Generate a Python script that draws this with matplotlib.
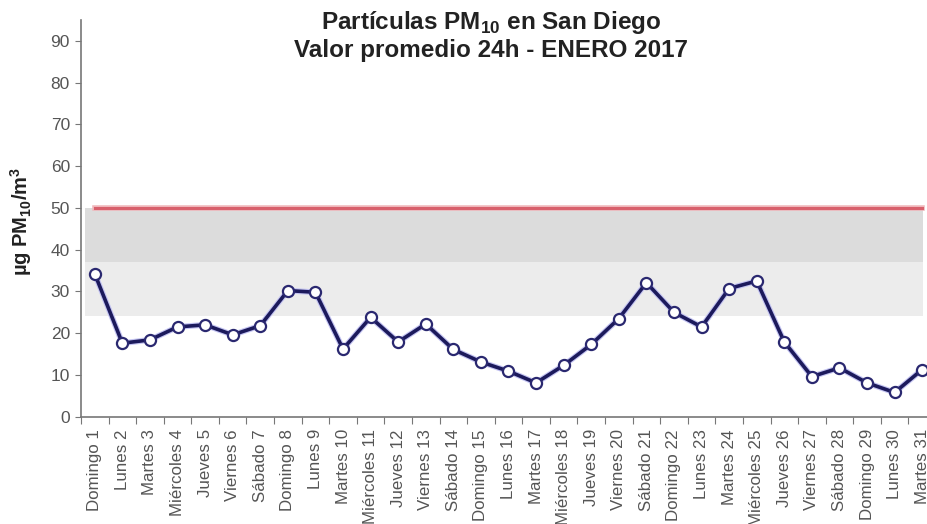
import matplotlib
matplotlib.use("Agg")
import matplotlib.pyplot as plt
import matplotlib.patheffects as pe

plt.rcParams['font.family'] = ['Liberation Sans', 'DejaVu Sans']
plt.rcParams['mathtext.fontset'] = 'custom'
plt.rcParams['mathtext.rm'] = 'Liberation Sans'
plt.rcParams['mathtext.bf'] = 'Liberation Sans:bold'

days = ["Domingo 1", "Lunes 2", "Martes 3", "Miércoles 4", "Jueves 5", "Viernes 6", "Sábado 7",
        "Domingo 8", "Lunes 9", "Martes 10", "Miércoles 11", "Jueves 12", "Viernes 13", "Sábado 14",
        "Domingo 15", "Lunes 16", "Martes 17", "Miércoles 18", "Jueves 19", "Viernes 20", "Sábado 21",
        "Domingo 22", "Lunes 23", "Martes 24", "Miércoles 25", "Jueves 26", "Viernes 27", "Sábado 28",
        "Domingo 29", "Lunes 30", "Martes 31"]
pm10 = [34.2, 17.6, 18.4, 21.5, 22.0, 19.6, 21.8, 30.2, 29.8, 16.2, 23.8, 17.9, 22.2, 16.1,
        13.1, 10.9, 8.1, 12.3, 17.3, 23.5, 32.1, 25.0, 21.5, 30.7, 32.5, 17.9, 9.6, 11.7,
        8.1, 5.8, 11.3]
limit_value = 50
band_high = (37, 50)
band_low = (24, 37)
yticks = list(range(0, 100, 10))

fig = plt.figure(figsize=(9.28, 5.24), dpi=100)
ax = fig.add_axes([81/928, (524-416.7)/524, (936-81)/928, (416.7-20)/524])

n = len(pm10)
x = list(range(n))
ax.set_xlim(-0.5, n - 0.5)
ax.set_ylim(0, 95)

ax.fill_between([-0.35, n - 1 + 0.02], band_high[0], band_high[1], color='#dcdcdc', lw=0, zorder=1)
ax.fill_between([-0.35, n - 1 + 0.02], band_low[0], band_low[1], color='#ececec', lw=0, zorder=1)
ax.plot([0, n - 1], [limit_value, limit_value], color='#d8606c', lw=2.2, zorder=2,
        path_effects=[pe.Stroke(linewidth=4, foreground='#f0b8bc'), pe.Normal()])

ax.plot(x, pm10, color='#1c1a5c', lw=2.6, zorder=3,
        path_effects=[pe.Stroke(linewidth=4.2, foreground='#c4c4f2'), pe.Normal()])
ax.plot(x, pm10, ls='none', marker='o', ms=8, mfc='white', mec='#2a2870', mew=1.6, zorder=4)

for s in ['top', 'right']:
    ax.spines[s].set_visible(False)
for s in ['left', 'bottom']:
    ax.spines[s].set_color('#777777')
    ax.spines[s].set_linewidth(1.2)

ax.set_yticks(yticks)
ax.tick_params(axis='y', direction='out', length=4, color='#777777', labelsize=12.5,
               labelcolor='#555555', pad=4)
ax.set_xticks([i - 0.5 for i in range(n + 1)], minor=False)
ax.set_xticklabels([])
ax.set_xticks(x, minor=True)
ax.set_xticklabels(days, minor=True, rotation=90, fontsize=12.2, color='#555555', va='top')
ax.tick_params(axis='x', which='major', direction='out', length=5, color='#777777')
ax.tick_params(axis='x', which='minor', length=0, pad=9)

fig.text(491/928, 1 - 23/524, r'Partículas PM$_{\mathbf{10}}$ en San Diego', ha='center', va='center',
         fontsize=17.5, fontweight='bold', color='#222222')
fig.text(491/928, 1 - 51/524, 'Valor promedio 24h - ENERO 2017', ha='center', va='center',
         fontsize=17.5, fontweight='bold', color='#222222')
fig.text(21/928, 1 - 221/524, r'µg PM$_{\mathbf{10}}$/m$^{\mathbf{3}}$', rotation=90, ha='center', va='center',
         fontsize=14.5, fontweight='bold', color='#222222')

fig.savefig('out.png', dpi=100)
